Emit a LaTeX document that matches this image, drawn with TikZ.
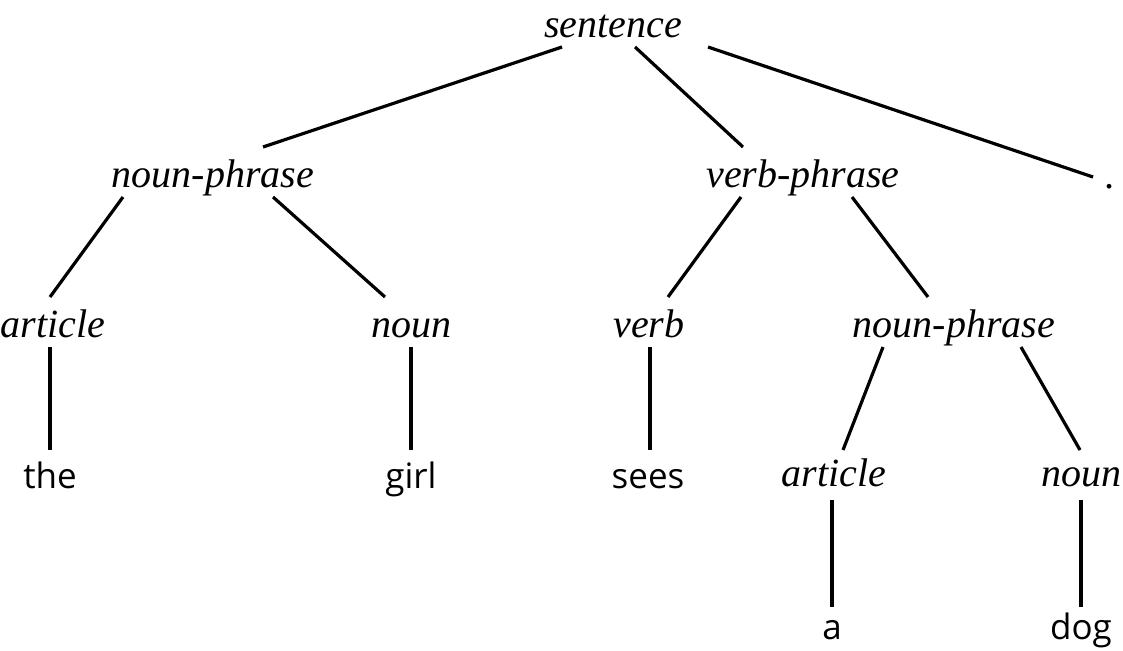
\documentclass[tikz,border=0pt]{standalone}
\usepackage{fontspec}
\setmainfont{Liberation Serif}
\newfontfamily\leaffont{Open Sans}
\usetikzlibrary{calc}
\begin{document}
\begin{tikzpicture}[x=1pt,y=-1pt,
  cat/.style={anchor=base,inner sep=0pt,font=\fontsize{40}{48}\selectfont\itshape},
  word/.style={anchor=base,inner sep=0pt,font=\fontsize{35}{42}\selectfont\leaffont},
  branch/.style={line width=3.2pt}]
\useasboundingbox (0,0) rectangle (1123,650);
% categories
\node[cat] (sent)  at (613,38)  {sentence};
\node[cat] (np1)   at (213,187) {noun-phrase};
\node[cat] (vp1)   at (803,187) {verb-phrase};
\node[cat] (dot)   at (1110,188) {.};
\node[cat] (art1)  at (53,337)  {article};
\node[cat] (noun1) at (411,337) {noun};
\node[cat] (verb1) at (649,337) {verb};
\node[cat] (np2)   at (954,337) {noun-phrase};
\node[cat] (art2)  at (834,486) {article};
\node[cat] (noun2) at (1081,486) {noun};
% words
\node[word] (the)  at (50,488)  {the};
\node[word] (girl) at (411,488) {girl};
\node[word] (sees) at (648,488) {sees};
\node[word] (wa)   at (832,639) {a};
\node[word] (dog)  at (1081,639) {dog};
% branches
\draw[branch] ($(sent.base)+(-51,9)$) -- ($(np1.base)+(50,-40)$);
\draw[branch] ($(sent.base)+(22,9)$) -- ($(vp1.base)+(-60,-40)$);
\draw[branch] ($(sent.base)+(95,9)$) -- ($(dot.base)+(-17,-11)$);
\draw[branch] ($(np1.base)+(-90,10)$) -- ($(art1.base)+(-3,-40)$);
\draw[branch] ($(np1.base)+(60,10)$) -- ($(noun1.base)+(-26,-40)$);
\draw[branch] ($(vp1.base)+(-62,10)$) -- ($(verb1.base)+(19,-40)$);
\draw[branch] ($(vp1.base)+(49,10)$) -- ($(np2.base)+(-26,-40)$);
\draw[branch] ($(art1.base)+(-3,10)$) -- ($(the.base)+(0,-38)$);
\draw[branch] ($(noun1.base)+(0,10)$) -- ($(girl.base)+(0,-38)$);
\draw[branch] ($(verb1.base)+(1,10)$) -- ($(sees.base)+(2,-38)$);
\draw[branch] ($(np2.base)+(-71,10)$) -- ($(art2.base)+(9,-36)$);
\draw[branch] ($(np2.base)+(67,10)$) -- ($(noun2.base)+(-1,-36)$);
\draw[branch] ($(art2.base)+(-2,14)$) -- ($(wa.base)+(0,-32)$);
\draw[branch] ($(noun2.base)+(0,14)$) -- ($(dog.base)+(0,-32)$);
\end{tikzpicture}
\end{document}
